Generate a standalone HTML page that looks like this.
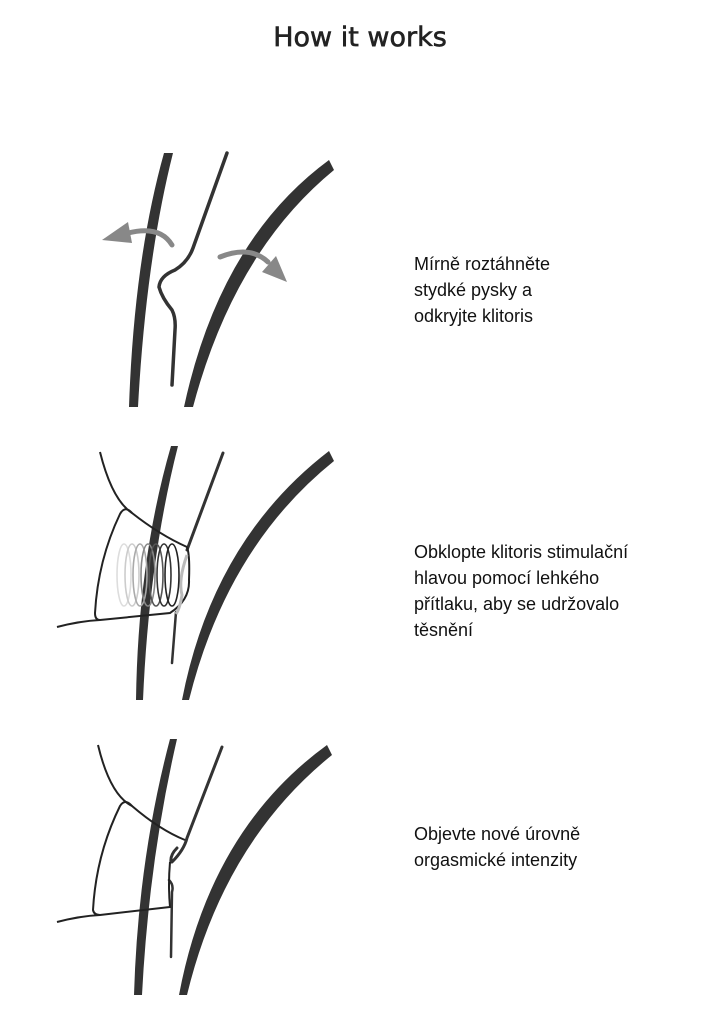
<!DOCTYPE html>
<html><head><meta charset="utf-8"><style>
body{margin:0;background:#fff;}
.t{position:absolute;left:414px;font-family:"Liberation Sans",sans-serif;font-size:18px;line-height:26px;color:#111;white-space:nowrap}
</style></head><body>
<div style="position:relative;width:720px;height:1024px;overflow:hidden">
<div style="position:absolute;left:0;width:720px;top:22px;text-align:center;font-family:'DejaVu Sans','Liberation Sans',sans-serif;font-size:27px;color:#222;-webkit-text-stroke:0.6px #222">How it works</div>
<div class="t" style="top:251px">Mírně roztáhněte<br>stydké pysky a<br>odkryjte klitoris</div>
<div class="t" style="top:539px">Obklopte klitoris stimulační<br>hlavou pomocí lehkého<br>přítlaku, aby se udržovalo<br>těsnění</div>
<div class="t" style="top:821px">Objevte nové úrovně<br>orgasmické intenzity</div>
<svg width="720" height="1024" style="position:absolute;left:0;top:0">
<g fill="#333">
<path d="M164,153 Q134,260 129,407 L138,407 Q146,260 173,153 Z"/>
<path d="M329,160 Q220,240 184,407 L193,407 Q234,252 334,170 Z"/>
<path d="M171,446 Q138,560 136,700 L143,700 Q149,560 178,446 Z"/>
<path d="M329,451 Q213,540 182,700 L189,700 Q227,547 334,461 Z"/>
<path d="M170,739 Q138,860 134,995 L142,995 Q149,860 177,739 Z"/>
<path d="M327,745 Q210,830 179,995 L187,995 Q224,842 332,755 Z"/>
</g>
<g fill="none" stroke="#333" stroke-linecap="round">
<path d="M227,153 L193,248 Q188,262 175,270 Q160,276 159,287 Q162,298 172,310 Q176,318 175,330 L172,385" stroke-width="3.5"/>
<path d="M223,453 L187,550" stroke-width="3"/>
<path d="M176,612 L172,663" stroke-width="2.5"/>
<path d="M222,747 L187,838 Q184,850 172,862 M177,848 Q170,855 171,862" stroke-width="3"/>
<path d="M169,880 Q174,885 172,892 L171,957" stroke-width="2.5"/>
</g>
<g fill="none" stroke="#888" stroke-width="5" stroke-linecap="round">
<path d="M172,245 Q160,225 128,233"/>
<path d="M220,257 Q250,245 268,262"/>
</g>
<g fill="#888">
<path d="M102,240 L128,222 L132,243 Z"/>
<path d="M287,282 L262,272 L276,256 Z"/>
</g>
<g fill="none" stroke="#222" stroke-width="2">
<path d="M100,452 Q112,500 132,513 Q160,535 187,547"/>
<path d="M132,513 Q125,505 120,514 Q98,560 95,613 Q95,620 100,620 L170,613 Q190,600 189,580 Q190,555 187,547"/>
<path d="M57,627 Q80,621 100,620"/>
</g>
<g fill="none" stroke-width="1.6">
<path d="M187,555 Q178,580 182,595 Q180,608 176,614" stroke="#bbb" stroke-width="3"/>
<ellipse cx="124" cy="575" rx="7" ry="31" stroke="#ddd"/>
<ellipse cx="132" cy="575" rx="7" ry="31" stroke="#ccc"/>
<ellipse cx="140" cy="575" rx="7" ry="31" stroke="#aaa"/>
<ellipse cx="148" cy="575" rx="7" ry="31" stroke="#888"/>
<ellipse cx="156" cy="575" rx="7" ry="31" stroke="#555"/>
<ellipse cx="164" cy="575" rx="7" ry="31" stroke="#333"/>
<ellipse cx="172" cy="575" rx="7" ry="31" stroke="#222"/>
</g>
<g fill="none" stroke="#222" stroke-width="2">
<path d="M98,745 Q110,795 132,806 Q160,830 185,840"/>
<path d="M132,806 Q125,798 120,806 Q96,855 93,910 Q94,915 100,915 L170,907 Q168,885 170,862"/>
<path d="M57,922 Q80,916 100,915"/>
</g>
</svg>
</div>
</body></html>
